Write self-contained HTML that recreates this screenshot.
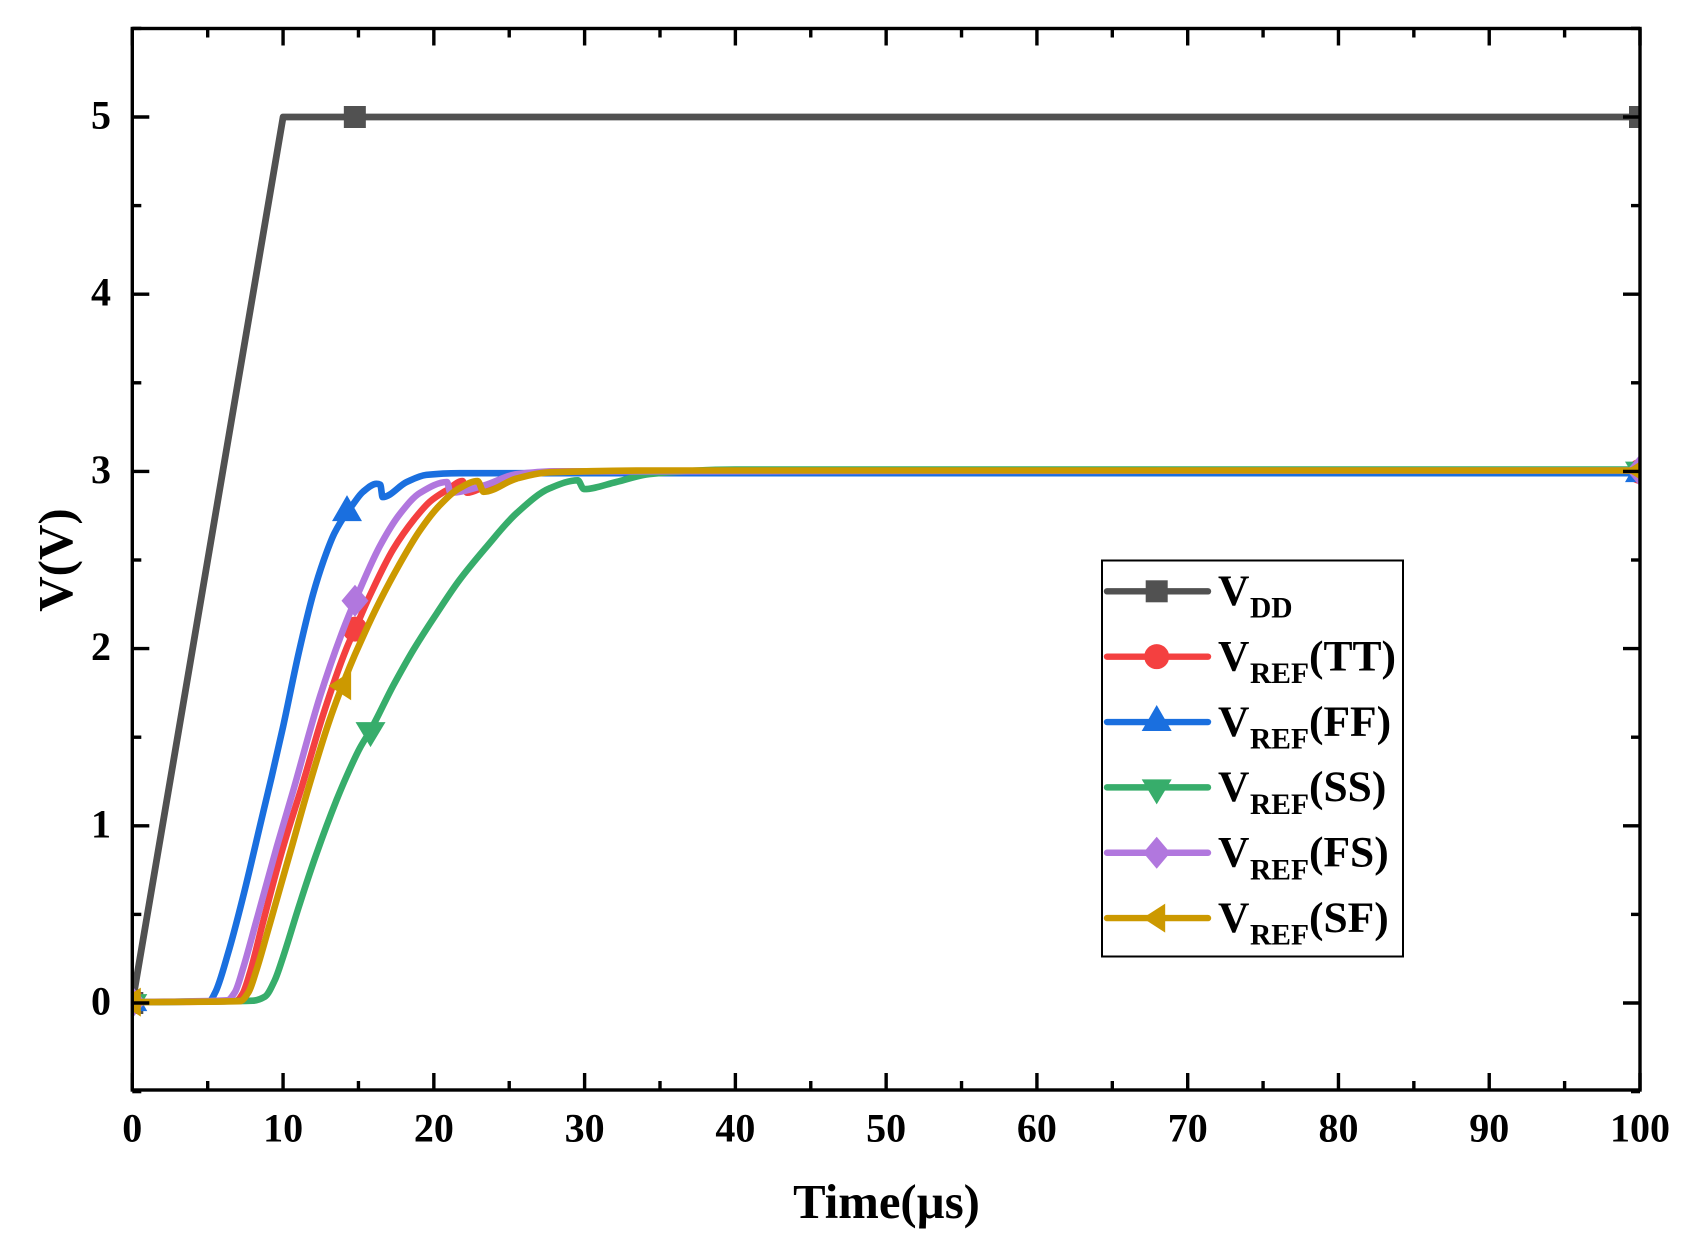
<!DOCTYPE html>
<html lang="en">
<head>
<meta charset="utf-8">
<title>VDD and VREF start-up curves</title>
<style>
html,body{margin:0;padding:0;background:#fff;}
svg{display:block;}
text{font-family:"Liberation Serif",serif;font-weight:bold;fill:#000;}
</style>
</head>
<body>
<svg id="chart" xmlns="http://www.w3.org/2000/svg" width="1692" height="1259" viewBox="0 0 1692 1259">
  <defs>
    <clipPath id="plot-clip"><rect x="132.3" y="28.5" width="1507.7" height="1061.5"/></clipPath>
  </defs>
  <rect x="0" y="0" width="1692" height="1259" fill="#ffffff"/>
  <g id="series-layer" clip-path="url(#plot-clip)"></g>
  <g id="axis-layer"></g>
  <text x="886.5" y="1218" font-size="48.7" text-anchor="middle">Time(µs)</text>
  <text x="72" y="560" font-size="49" text-anchor="middle" transform="rotate(-90 72 560)">V(V)</text>
  <g>
    <rect x="1102" y="560.5" width="301" height="396" fill="#ffffff" stroke="#000" stroke-width="2"/>
    <g id="legend-symbols"></g>
    <g><text x="1218" y="605" font-size="43.5">V</text><text x="1250" y="617.7" font-size="29.5">DD</text></g>
    <g><text x="1218" y="670.4" font-size="43.5">V</text><text x="1250" y="683" font-size="29.5">REF</text><text x="1309" y="670.4" font-size="43.5">(TT)</text></g>
    <g><text x="1218" y="735.8" font-size="43.5">V</text><text x="1250" y="748.5" font-size="29.5">REF</text><text x="1309" y="735.8" font-size="43.5">(FF)</text></g>
    <g><text x="1218" y="801.2" font-size="43.5">V</text><text x="1250" y="813.9" font-size="29.5">REF</text><text x="1309" y="801.2" font-size="43.5">(SS)</text></g>
    <g><text x="1218" y="866.6" font-size="43.5">V</text><text x="1250" y="879.3" font-size="29.5">REF</text><text x="1309" y="866.6" font-size="43.5">(FS)</text></g>
    <g><text x="1218" y="932" font-size="43.5">V</text><text x="1250" y="944.7" font-size="29.5">REF</text><text x="1309" y="932" font-size="43.5">(SF)</text></g>
  </g>
</svg>
<script>
const xMajorTicks = [0,10,20,30,40,50,60,70,80,90,100];
const xMinorTicks = [5,15,25,35,45,55,65,75,85,95];
const yMajorTicks = [0,1,2,3,4,5];
const yMinorTicks = [-0.5,0.5,1.5,2.5,3.5,4.5,5.5];

const vddTime = [0,10,100];
const vddVolt = [0,5,5];
const ttTime = [0,6.9,7.3,7.8,8.68,10,11.24,12.67,14.2,14.77,15.76,17.3,18.7,19.75,20.87,21.9,22.2,23.4,24.6,26,28,35,100];
const ttVolt = [0.005,0.012,0.05,0.17,0.46,0.88,1.22,1.63,2,2.11,2.3,2.56,2.73,2.83,2.895,2.945,2.88,2.915,2.95,2.98,3,3,3];
const ffTime = [0,5.1,5.48,6.35,7.35,8.47,9.25,10,11.1,12,12.7,13.4,14.24,14.6,15.3,16.2,16.45,16.6,18.2,19.5,21.7,30,100];
const ffVolt = [0.005,0.01,0.056,0.28,0.6,1,1.28,1.56,2,2.31,2.5,2.65,2.77,2.81,2.885,2.93,2.925,2.855,2.94,2.98,2.99,2.99,2.99];
const ssTime = [0,8,8.8,9.46,10,11.12,12.23,13.55,14.2,15.1,15.8,17.3,18.64,20.2,21.7,23.5,25.5,27.7,29.55,29.95,32.1,34.3,40,100];
const ssVolt = [0.005,0.013,0.036,0.13,0.26,0.564,0.846,1.146,1.277,1.44,1.54,1.79,1.992,2.2,2.387,2.575,2.765,2.905,2.95,2.9,2.94,2.985,3.01,3.01];
const fsTime = [0,6.3,6.8,7.36,8.25,9.58,10.68,12.45,14,14.77,16.43,17.75,19.1,20.87,21.1,23.3,25.5,28,100];
const fsVolt = [0.005,0.015,0.06,0.2,0.47,0.88,1.2,1.73,2.11,2.27,2.58,2.76,2.88,2.94,2.88,2.92,2.985,3,3.005];
const sfTime = [0,7.14,7.7,8.25,9.13,10.57,11.57,13.1,14.44,15.1,16.43,17.75,19.1,20.4,21.7,22.9,23.3,25.5,27.7,35,100];
const sfVolt = [0.005,0.01,0.06,0.19,0.45,0.88,1.18,1.6,1.9,2.03,2.27,2.48,2.67,2.81,2.905,2.945,2.885,2.96,2.995,3.005,3.005];

const vddMarkerTimes = [0,14.76,100];
const ttMarkerTimes = [0,14.77,100];
const ffMarkerTimes = [0,14.24,100];
const ssMarkerTimes = [0,15.8,100];
const fsMarkerTimes = [0,14.77,100];
const sfMarkerTimes = [0,13.95,100];

const NS = 'http://www.w3.org/2000/svg';
const xScale = t => 132.3 + 15.077 * t;
const yScale = v => 1003 - 177.2 * v;

function make(tag, attrs, parent) {
  const el = document.createElementNS(NS, tag);
  for (const k in attrs) el.setAttribute(k, attrs[k]);
  parent.appendChild(el);
  return el;
}
function interp(ts, vs, t) {
  for (let i = 1; i < ts.length; i++) {
    if (t <= ts[i]) {
      const f = (t - ts[i-1]) / (ts[i] - ts[i-1]);
      return vs[i-1] + f * (vs[i] - vs[i-1]);
    }
  }
  return vs[vs.length - 1];
}
/* Monotone cubic path through the data points (keeps peaks and dips tight). */
function curvePath(ts, vs) {
  const xs = ts.map(xScale), ys = vs.map(yScale), n = xs.length;
  const d = [], m = [];
  for (let i = 0; i < n - 1; i++) d.push((ys[i+1] - ys[i]) / (xs[i+1] - xs[i]));
  m[0] = d[0];
  m[n-1] = d[n-2];
  for (let i = 1; i < n - 1; i++) {
    if (d[i-1] * d[i] <= 0) { m[i] = 0; continue; }
    const h0 = xs[i] - xs[i-1], h1 = xs[i+1] - xs[i];
    const w1 = 2 * h1 + h0, w2 = h1 + 2 * h0;
    m[i] = (w1 + w2) / (w1 / d[i-1] + w2 / d[i]);
  }
  let p = 'M' + xs[0].toFixed(1) + ' ' + ys[0].toFixed(1);
  for (let i = 0; i < n - 1; i++) {
    const h = (xs[i+1] - xs[i]) / 3;
    p += ' C' + (xs[i] + h).toFixed(1) + ' ' + (ys[i] + m[i] * h).toFixed(1) + ' ' +
         (xs[i+1] - h).toFixed(1) + ' ' + (ys[i+1] - m[i+1] * h).toFixed(1) + ' ' +
         xs[i+1].toFixed(1) + ' ' + ys[i+1].toFixed(1);
  }
  return p;
}
function straightPath(ts, vs) {
  return ts.map((t, i) => (i ? 'L' : 'M') + xScale(t).toFixed(1) + ' ' + yScale(vs[i]).toFixed(1)).join(' ');
}
function drawMarker(kind, x, y, color, parent, name) {
  let el;
  const pts = a => a.map(p => (x + p[0]) + ',' + (y + p[1])).join(' ');
  if (kind === 'square') el = make('rect', {x: x - 11, y: y - 11, width: 22, height: 22, fill: color}, parent);
  else if (kind === 'circle') el = make('circle', {cx: x, cy: y, r: 12.5, fill: color}, parent);
  else if (kind === 'up') el = make('polygon', {points: pts([[0,-17],[15,9],[-15,9]]), fill: color}, parent);
  else if (kind === 'down') el = make('polygon', {points: pts([[0,17],[15,-8],[-15,-8]]), fill: color}, parent);
  else if (kind === 'diamond') el = make('polygon', {points: pts([[0,-16],[13.5,0],[0,16],[-13.5,0]]), fill: color}, parent);
  else el = make('polygon', {points: pts([[-14,0],[8.5,-14.5],[8.5,14.5]]), fill: color}, parent);
  
  
}

const seriesLayer = document.getElementById('series-layer');
const axisLayer = document.getElementById('axis-layer');
const legendSymbols = document.getElementById('legend-symbols');

const seriesList = [
  {key:'vdd', color:'#515151', width:6.8, kind:'square', t:vddTime, v:vddVolt, m:vddMarkerTimes},
  {key:'tt', color:'#F44040', width:6.6, kind:'circle', t:ttTime, v:ttVolt, m:ttMarkerTimes},
  {key:'ff', color:'#1A6FDF', width:6.6, kind:'up', t:ffTime, v:ffVolt, m:ffMarkerTimes},
  {key:'ss', color:'#37AD6B', width:6.6, kind:'down', t:ssTime, v:ssVolt, m:ssMarkerTimes},
  {key:'fs', color:'#B177DE', width:6.6, kind:'diamond', t:fsTime, v:fsVolt, m:fsMarkerTimes},
  {key:'sf', color:'#CC9900', width:6.6, kind:'left', t:sfTime, v:sfVolt, m:sfMarkerTimes}
];

seriesList.forEach((s, idx) => {
  const line = make('path', {
    d: s.key === 'vdd' ? straightPath(s.t, s.v) : curvePath(s.t, s.v),
    fill: 'none', stroke: s.color, 'stroke-width': s.width,
    'stroke-linejoin': 'round', 'stroke-linecap': 'round'
  }, seriesLayer);
  
  
  s.m.forEach(t => {
    drawMarker(s.kind, xScale(t), yScale(interp(s.t, s.v, t)), s.color, seriesLayer, 'series-marker-' + s.key);
  });
  const ly = 591.3 + 65.36 * idx;
  const key = make('line', {x1: 1107, x2: 1208, y1: ly, y2: ly, stroke: s.color, 'stroke-width': 6.4, 'stroke-linecap': 'round'}, legendSymbols);
  
  
  drawMarker(s.kind, 1156.7, ly, s.color, legendSymbols, 'legend-marker-' + s.key);
});

const frame = make('rect', {x: 132.3, y: 28.5, width: 1507.7, height: 1061.5, fill: 'none', stroke: '#000', 'stroke-width': 3.4}, axisLayer);



function xTick(t, len, name) {
  const x = xScale(t);
  const bottom = make('line', {x1: x, x2: x, y1: 1090, y2: 1090 - len, stroke: '#000', 'stroke-width': 3.4}, axisLayer);
  
  
  const top = make('line', {x1: x, x2: x, y1: 28.5, y2: 28.5 + len, stroke: '#000', 'stroke-width': 3.4}, axisLayer);
  
  
}
function yTick(v, len, name) {
  const y = yScale(v);
  const left = make('line', {x1: 132.3, x2: 132.3 + len, y1: y, y2: y, stroke: '#000', 'stroke-width': 3.4}, axisLayer);
  
  
  const right = make('line', {x1: 1640, x2: 1640 - len, y1: y, y2: y, stroke: '#000', 'stroke-width': 3.4}, axisLayer);
  
  
}

xMinorTicks.forEach(t => xTick(t, 9, 'x-minor-tick'));
yMinorTicks.forEach(v => yTick(v, 9, 'y-minor-tick'));
xMajorTicks.forEach(t => {
  xTick(t, 17, 'x-major-tick');
  const label = make('text', {x: xScale(t), y: 1141.5, 'font-size': 40, 'text-anchor': 'middle'}, axisLayer);
  label.textContent = String(t);
  
  
});
yMajorTicks.forEach(v => {
  yTick(v, 17, 'y-major-tick');
  const label = make('text', {x: 111, y: yScale(v) + 11.5, 'font-size': 40, 'text-anchor': 'end'}, axisLayer);
  label.textContent = String(v);
  
  
});
</script>
</body>
</html>
